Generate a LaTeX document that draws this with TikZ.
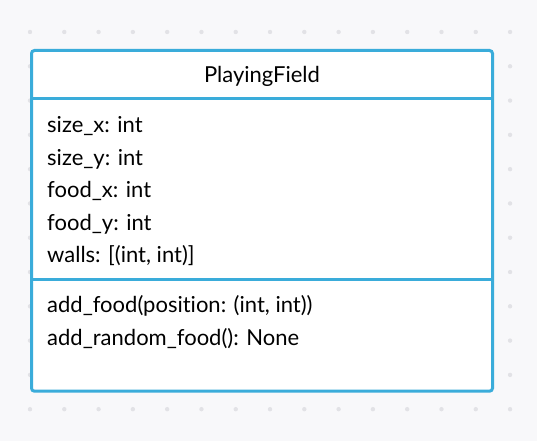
\documentclass[tikz,border=0pt]{standalone}
\usepackage{fontspec}
\setmainfont[Ligatures={NoCommon,NoDiscretionary}]{Lato}
\usetikzlibrary{positioning,calc}
\definecolor{umlblue}{RGB}{58,172,218}
\definecolor{gridbg}{RGB}{248,248,250}
\definecolor{griddot}{RGB}{226,226,230}

\begin{document}
\begin{tikzpicture}[
    x=1pt,y=-1pt,
    cls/.style={draw=umlblue,line width=3pt,rounded corners=3pt,fill=white,
      minimum width=461pt,minimum height=340.7pt,inner sep=0pt,outer sep=0pt},
    sep/.style={draw=umlblue,line width=3pt},
    title/.style={anchor=base,inner sep=0pt,font=\fontsize{22}{26}\selectfont},
    member/.style={anchor=base west,inner sep=0pt,font=\fontsize{22}{26}\selectfont},
    dot/.style={fill=griddot,draw=none}
  ]
    % background and dotted grid
    \fill[gridbg] (0,0) rectangle (537,441);
    \useasboundingbox (0,0) rectangle (537,441);
    \foreach \i in {0,...,14}
      \foreach \j in {0,...,12}
        \fill[dot] (30+34.29*\i,-2.3+34.29*\j) circle (2.2);
    % class box
    \node[cls] (field) at (262,220.85) {};
    \draw[sep] ([yshift=-48.5pt]field.north west) -- ([yshift=-48.5pt]field.north east);
    \draw[sep] ([yshift=-228.8pt]field.north west) -- ([yshift=-228.8pt]field.north east);
    \node[title] (name) at (262,83) {PlayingField};
    % attributes
    \node[member] (sizex) at (47,132.7) {size\_x: int};
    \node[member] (sizey) at (47,165) {size\_y: int};
    \node[member] (foodx) at (47,197.5) {food\_x: int};
    \node[member] (foody) at (47,230) {food\_y: int};
    \node[member] (walls) at (47,262.5) {walls: [(int, int)]};
    % methods
    \node[member] (addfood) at (47,312.7) {add\_food(position: (int, int))};
    \node[member] (addrand) at (47,345) {add\_random\_food(): None};
  \end{tikzpicture}
\end{document}
